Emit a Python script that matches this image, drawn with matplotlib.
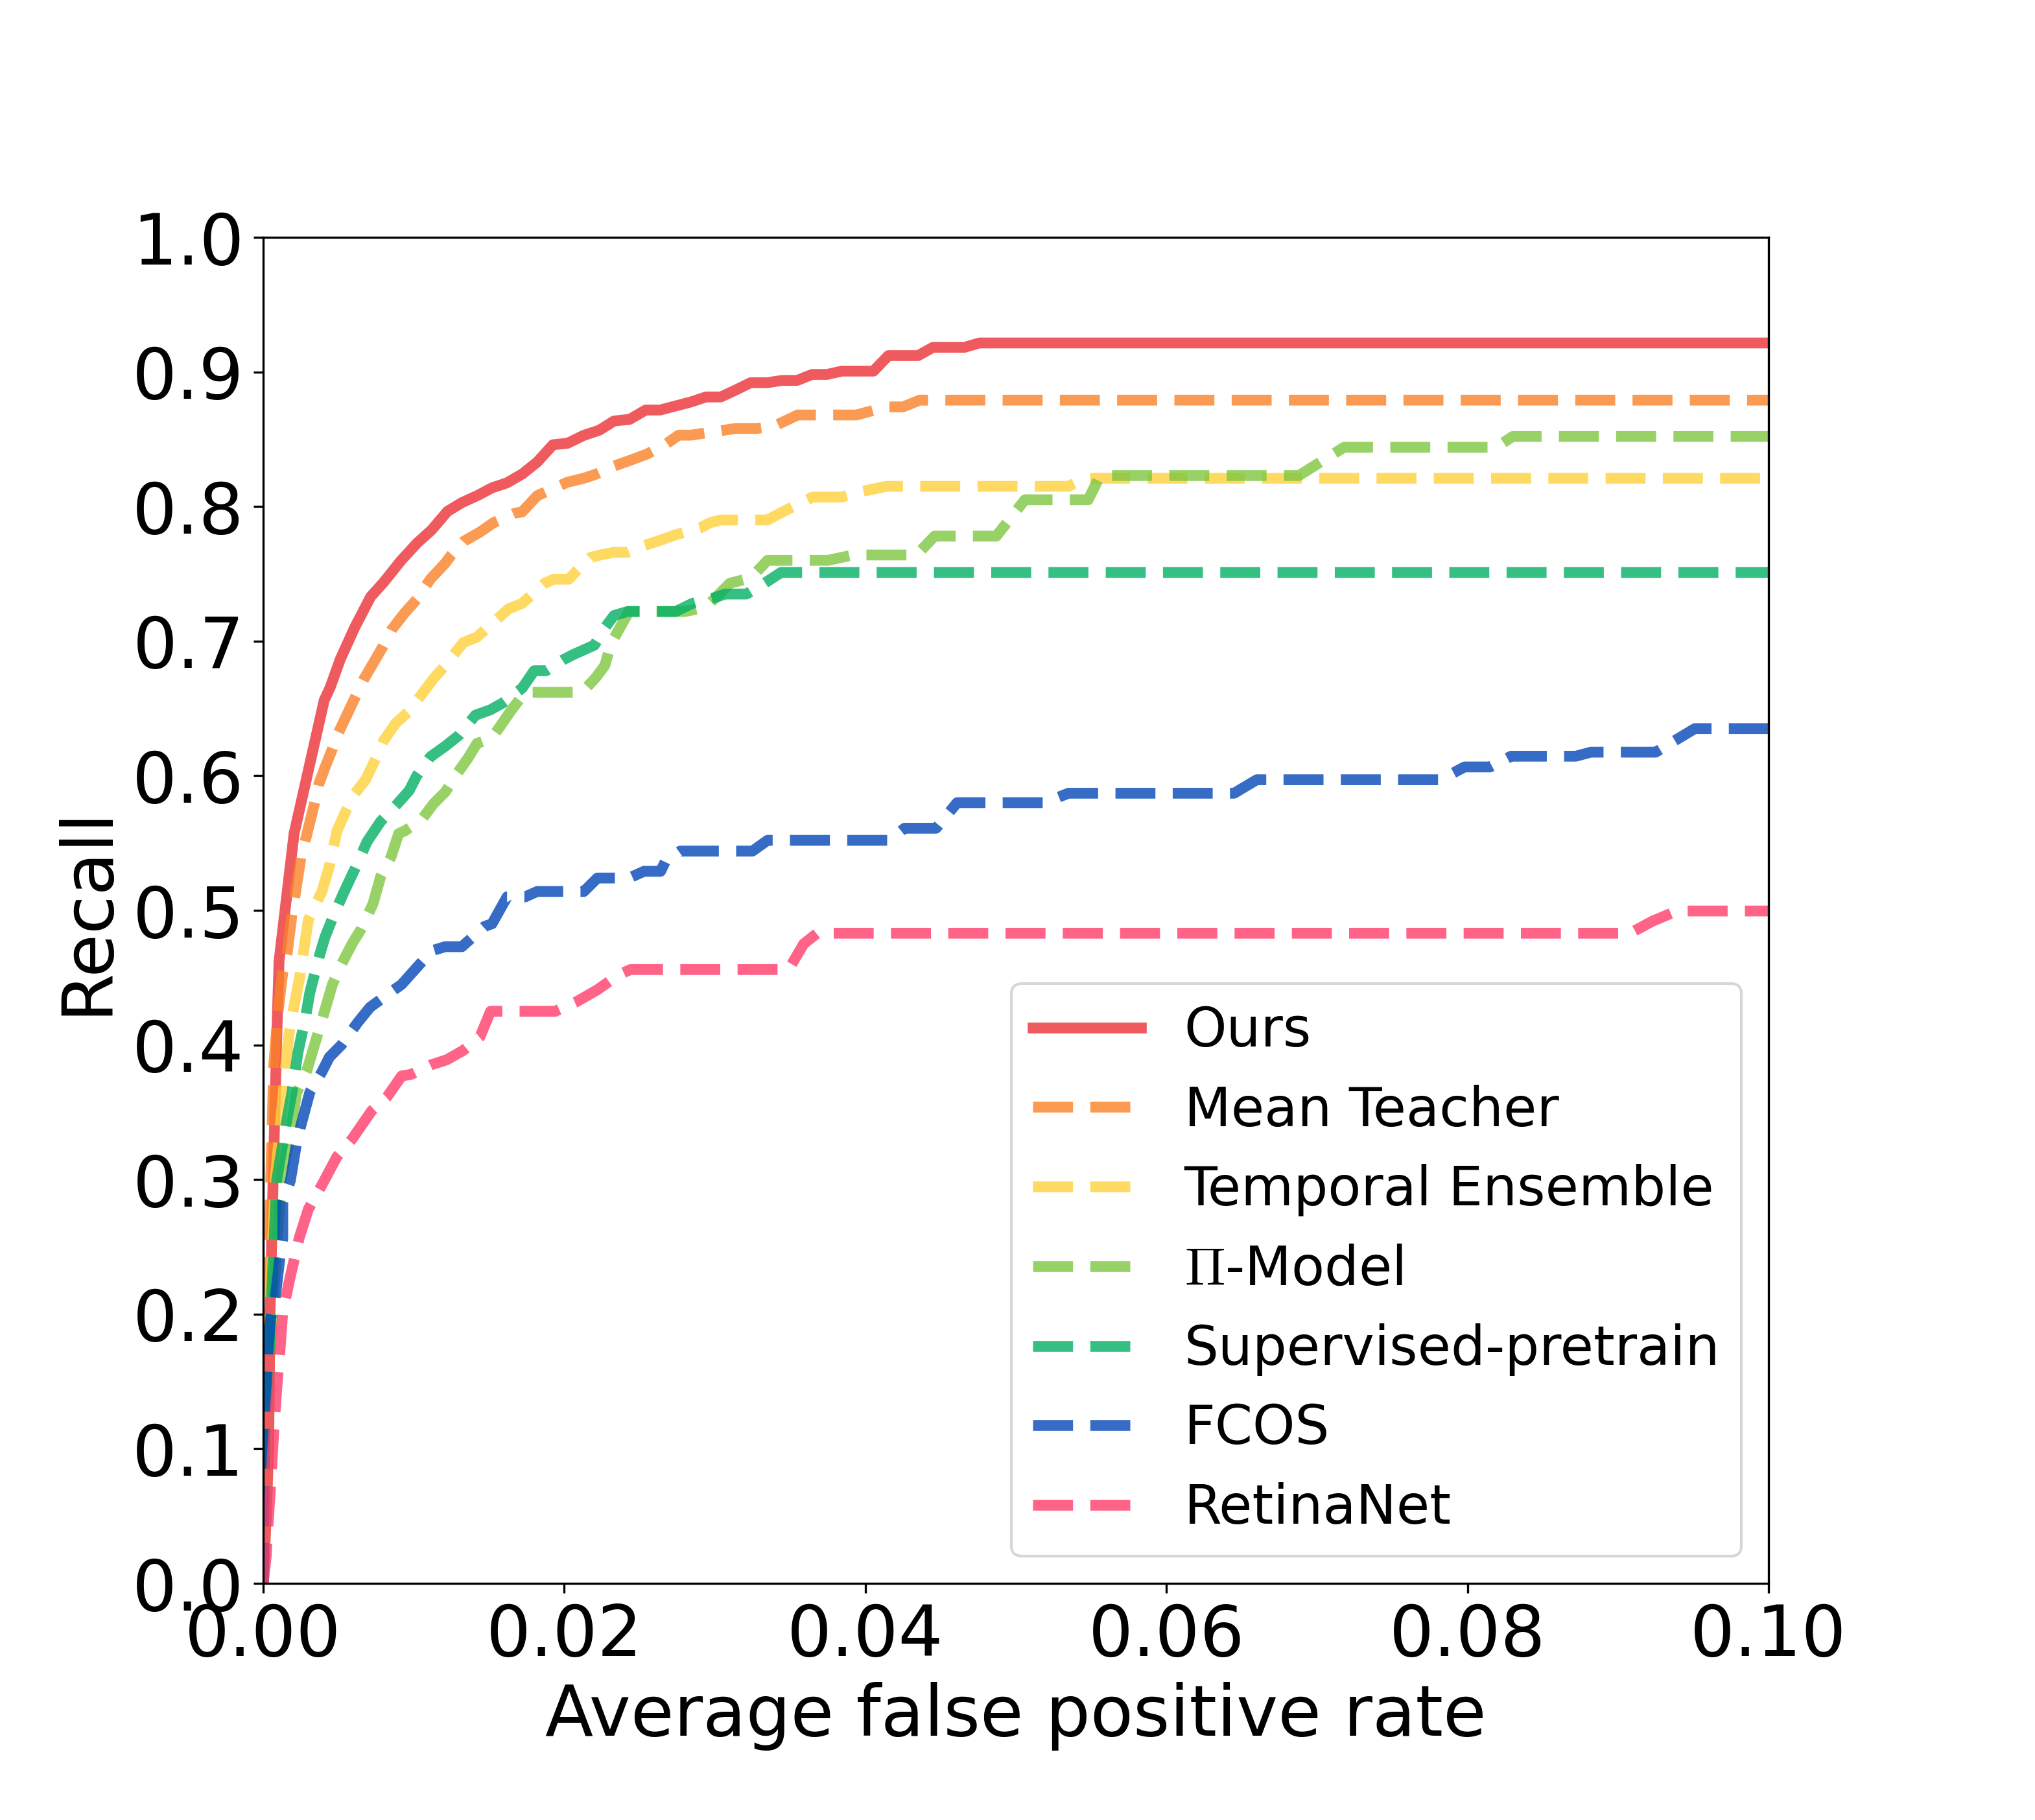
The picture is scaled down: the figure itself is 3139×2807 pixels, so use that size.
import matplotlib
matplotlib.use("Agg")
import matplotlib.pyplot as plt
from matplotlib.ticker import FormatStrFormatter

plt.rcParams['font.family'] = ['DejaVu Sans']
plt.rcParams['mathtext.fontset'] = 'cm'
plt.rcParams['font.size'] = 26

labels = ["Ours", "Mean Teacher", "Temporal Ensemble", r"$\Pi$-Model",
          "Supervised-pretrain", "FCOS", "RetinaNet"]
colors = ["#EB3137", "#FB8127", "#FFD13C", "#7EC740", "#02AF63", "#0347B7", "#FF3C6A"]
styles = ["-", "--", "--", "--", "--", "--", "--"]

ours_x = [0, 0.0002, 0.00036, 0.00045, 0.00066, 0.0009, 0.00105, 0.00205, 0.00405, 0.00445,
          0.00513, 0.00609, 0.00714, 0.008, 0.00916, 0.01022, 0.01118, 0.01224, 0.0132, 0.01426,
          0.01522, 0.01618, 0.01724, 0.0182, 0.01925, 0.02022, 0.02128, 0.02233, 0.0233, 0.02435,
          0.02541, 0.02637, 0.02842, 0.02941, 0.0304, 0.0314, 0.03238, 0.03349, 0.03448, 0.03547,
          0.03646, 0.03745, 0.03844, 0.04054, 0.04153, 0.0435, 0.0445, 0.0466, 0.04758, 0.1]
ours_y = [0, 0.05, 0.1, 0.2, 0.3, 0.4056, 0.462, 0.557, 0.656, 0.6657,
          0.6868, 0.7104, 0.733, 0.7437, 0.7599, 0.7728, 0.7825, 0.7964, 0.8029, 0.8083,
          0.814, 0.8175, 0.8244, 0.833, 0.8459, 0.847, 0.8528, 0.8567, 0.8635, 0.8648,
          0.8717, 0.8717, 0.8777, 0.8814, 0.8814, 0.8866, 0.892, 0.892, 0.8937, 0.8937,
          0.8981, 0.8981, 0.9006, 0.9006, 0.9121, 0.9121, 0.9183, 0.9183, 0.9215, 0.9215]

mt_x = [0, 0.0001, 0.0003, 0.0005, 0.0007, 0.001, 0.0013, 0.0016, 0.0019, 0.0021, 0.0025,
        0.0028, 0.0034, 0.0037, 0.0041, 0.0046, 0.005, 0.0061, 0.0067, 0.0079, 0.0085,
        0.0094, 0.0102, 0.0111, 0.0121, 0.0125, 0.0133, 0.0144, 0.0153, 0.0167, 0.0172,
        0.0182, 0.0202, 0.0213, 0.0221, 0.0233, 0.0243, 0.0255, 0.0267, 0.0276, 0.0284,
        0.0302, 0.0314, 0.0328, 0.034, 0.0355, 0.0394, 0.0414, 0.0425, 0.0436, 0.1]
mt_y = [0, 0.1, 0.2, 0.3, 0.385, 0.426, 0.454, 0.469, 0.496, 0.51, 0.539,
        0.552, 0.579, 0.594, 0.606, 0.62, 0.632, 0.658, 0.672, 0.695, 0.708,
        0.721, 0.731, 0.746, 0.758, 0.764, 0.774, 0.781, 0.788, 0.795, 0.796,
        0.808, 0.818, 0.821, 0.824, 0.83, 0.834, 0.839, 0.846, 0.853, 0.853,
        0.856, 0.858, 0.858, 0.86, 0.868, 0.868, 0.874, 0.874, 0.879, 0.879]

te_x = [0, 0.0002, 0.0004, 0.0008, 0.0015, 0.0017, 0.002, 0.0024, 0.0027, 0.003, 0.0039,
        0.0044, 0.0049, 0.0055, 0.0061, 0.0068, 0.0074, 0.008, 0.0088, 0.0096, 0.0105,
        0.0113, 0.0121, 0.0128, 0.0133, 0.0142, 0.0147, 0.0157, 0.0163, 0.0172, 0.0177,
        0.0187, 0.0193, 0.0203, 0.0208, 0.0217, 0.0224, 0.0233, 0.0242, 0.0253, 0.0264,
        0.0274, 0.029, 0.0297, 0.0304, 0.0335, 0.0345, 0.0365, 0.0384, 0.0397, 0.0414,
        0.0535, 0.0546, 0.1]
te_y = [0, 0.1, 0.2, 0.3, 0.385, 0.407, 0.426, 0.449, 0.471, 0.493, 0.514,
        0.533, 0.559, 0.574, 0.587, 0.597, 0.611, 0.626, 0.639, 0.647, 0.66,
        0.672, 0.682, 0.692, 0.699, 0.703, 0.708, 0.718, 0.724, 0.728, 0.733,
        0.743, 0.746, 0.746, 0.752, 0.762, 0.764, 0.766, 0.766, 0.771, 0.775,
        0.779, 0.784, 0.788, 0.79, 0.79, 0.796, 0.807, 0.807, 0.811, 0.815,
        0.815, 0.821, 0.821]

pi_x = [0, 0.0002, 0.0006, 0.0012, 0.0019, 0.0022, 0.0029, 0.0033, 0.0041, 0.0046, 0.0052,
        0.0059, 0.0065, 0.0073, 0.0078, 0.0085, 0.009, 0.0094, 0.0105, 0.0113, 0.0121,
        0.0129, 0.0136, 0.0142, 0.0152, 0.0165, 0.0174, 0.0212, 0.0221, 0.0227, 0.0231,
        0.0243, 0.028, 0.0294, 0.031, 0.0324, 0.0335, 0.0375, 0.0392, 0.0434, 0.0446,
        0.0487, 0.0506, 0.0548, 0.0556, 0.0688, 0.0718, 0.0819, 0.083, 0.1]
pi_y = [0, 0.1, 0.2, 0.3, 0.34, 0.364, 0.381, 0.396, 0.426, 0.445, 0.46,
        0.475, 0.486, 0.505, 0.525, 0.54, 0.557, 0.559, 0.567, 0.579, 0.588,
        0.602, 0.613, 0.624, 0.628, 0.649, 0.662, 0.662, 0.673, 0.682, 0.698,
        0.722, 0.722, 0.725, 0.743, 0.747, 0.76, 0.76, 0.764, 0.764, 0.778,
        0.778, 0.805, 0.805, 0.823, 0.823, 0.844, 0.844, 0.852, 0.852]

sp_x = [0, 0.0001, 0.0005, 0.0009, 0.0015, 0.0019, 0.0023, 0.0028, 0.0031, 0.0037, 0.0041,
        0.0046, 0.0053, 0.0061, 0.0069, 0.0078, 0.0089, 0.0097, 0.0102, 0.0111, 0.0121,
        0.013, 0.0141, 0.0151, 0.0159, 0.0172, 0.018, 0.0188, 0.0199, 0.0206, 0.0212,
        0.022, 0.0227, 0.0233, 0.0242, 0.0274, 0.0285, 0.0299, 0.0307, 0.0321, 0.0333,
        0.0344, 0.1]
sp_y = [0, 0.1, 0.2, 0.3, 0.34, 0.364, 0.394, 0.42, 0.439, 0.465, 0.48,
        0.494, 0.512, 0.531, 0.551, 0.566, 0.579, 0.589, 0.6, 0.614, 0.622,
        0.63, 0.645, 0.649, 0.654, 0.665, 0.678, 0.678, 0.686, 0.69, 0.693,
        0.697, 0.71, 0.719, 0.722, 0.722, 0.728, 0.732, 0.735, 0.735, 0.743,
        0.751, 0.751]

fcos_x = [0, 0.0001, 0.0003, 0.0005, 0.0008, 0.0011, 0.0013, 0.0013, 0.0018, 0.0022, 0.0025,
          0.0031, 0.0039, 0.0044, 0.0052, 0.0063, 0.0071, 0.0087, 0.0092, 0.0104, 0.0112,
          0.0121, 0.0132, 0.0136, 0.0147, 0.0152, 0.0162, 0.0174, 0.0182, 0.0199, 0.0213,
          0.0222, 0.0234, 0.0245, 0.0253, 0.0264, 0.0267, 0.0277, 0.0325, 0.0335, 0.0416,
          0.0426, 0.0447, 0.0461, 0.0519, 0.0535, 0.0645, 0.066, 0.0782, 0.0798, 0.0815,
          0.0829, 0.0872, 0.0882, 0.0925, 0.0951, 0.1]
fcos_y = [0, 0.12, 0.171, 0.197, 0.212, 0.241, 0.256, 0.283, 0.299, 0.326, 0.34,
          0.365, 0.38, 0.391, 0.4, 0.417, 0.428, 0.441, 0.445, 0.46, 0.47,
          0.473, 0.473, 0.477, 0.488, 0.49, 0.51, 0.51, 0.514, 0.514, 0.514,
          0.524, 0.524, 0.525, 0.529, 0.529, 0.536, 0.544, 0.544, 0.552, 0.552,
          0.561, 0.561, 0.58, 0.58, 0.587, 0.587, 0.597, 0.597, 0.6065, 0.6065,
          0.6145, 0.6145, 0.6175, 0.6175, 0.635, 0.635]

rn_x = [0, 0.0002, 0.0003, 0.0005, 0.0007, 0.0009, 0.0011, 0.0013, 0.0018, 0.0024, 0.003,
        0.0039, 0.0049, 0.0059, 0.0072, 0.0082, 0.0092, 0.0098, 0.0111, 0.0122, 0.0133,
        0.0144, 0.0151, 0.0194, 0.0208, 0.0222, 0.0236, 0.0244, 0.0349, 0.0359, 0.0368,
        0.0908, 0.0923, 0.0939, 0.1]
rn_y = [0, 0.02, 0.04, 0.074, 0.113, 0.145, 0.171, 0.202, 0.228, 0.257, 0.278,
        0.296, 0.317, 0.33, 0.351, 0.361, 0.377, 0.378, 0.385, 0.389, 0.396,
        0.406, 0.425, 0.425, 0.432, 0.441, 0.452, 0.456, 0.456, 0.475, 0.483,
        0.483, 0.492, 0.4995, 0.4995]

series = [(ours_x, ours_y), (mt_x, mt_y), (te_x, te_y), (pi_x, pi_y),
          (sp_x, sp_y), (fcos_x, fcos_y), (rn_x, rn_y)]

fig = plt.figure(figsize=(3139 / 300, 2807 / 300), dpi=300)
ax = fig.add_axes([406 / 3139, 1 - 2442 / 2807, 2322 / 3139, 2076 / 2807])

for (xs, ys), lab, col, ls in zip(series, labels, colors, styles):
    ax.plot(xs, ys, ls, color=col, lw=4, alpha=0.8, label=lab)

ax.set_xlim(0, 0.1)
ax.set_ylim(0, 1.0)
ax.set_xticks([0, 0.02, 0.04, 0.06, 0.08, 0.10])
ax.set_yticks([0.0, 0.1, 0.2, 0.3, 0.4, 0.5, 0.6, 0.7, 0.8, 0.9, 1.0])
ax.xaxis.set_major_formatter(FormatStrFormatter('%.2f'))
ax.yaxis.set_major_formatter(FormatStrFormatter('%.1f'))
ax.set_xlabel("Average false positive rate")
ax.set_ylabel("Recall")
ax.legend(loc="lower right", fontsize=20)

fig.savefig("out.png", dpi=300)
